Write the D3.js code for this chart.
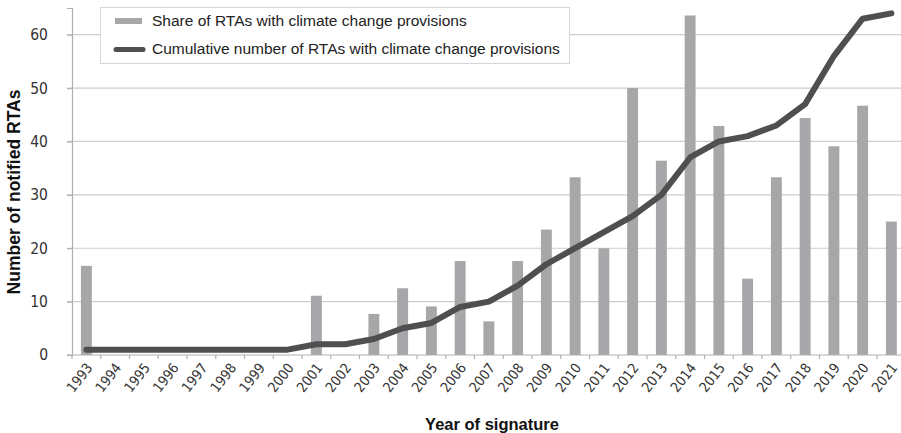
<!DOCTYPE html>
<html>
<head>
<meta charset="utf-8">
<script src="https://cdn.jsdelivr.net/npm/d3@7"></script>
<style>
  html, body { margin: 0; padding: 0; background: #fff; }
  svg { display: block; }
  .tick-label { font-family: "Liberation Sans Narrow", "DejaVu Sans Condensed", "Arial Narrow", sans-serif; fill: #333; }
  .legend-text { font-family: "Liberation Sans", Arial, Helvetica, sans-serif; fill: #222; }
  .axis-title { font-family: "Liberation Sans", Arial, Helvetica, sans-serif; font-weight: bold; fill: #111; }
</style>
</head>
<body>
<svg id="chart" width="901" height="433"></svg>
<script>
const years = ["1993","1994","1995","1996","1997","1998","1999","2000","2001","2002","2003","2004","2005","2006","2007","2008","2009","2010","2011","2012","2013","2014","2015","2016","2017","2018","2019","2020","2021"];
const shareValues = [16.7,0,0,0,0,0,0,0,11.1,0,7.7,12.5,9.1,17.6,6.3,17.6,23.5,33.3,20,50,36.4,63.6,42.9,14.3,33.3,44.4,39.1,46.7,25];
const cumulativeValues = [1,1,1,1,1,1,1,1,2,2,3,5,6,9,10,13,17,20,23,26,30,37,40,41,43,47,56,63,64];
const yTicks = [0,10,20,30,40,50,60];
const seriesNames = ["Share of RTAs with climate change provisions","Cumulative number of RTAs with climate change provisions"];
const xTitle = "Year of signature";
const yTitle = "Number of notified RTAs";

(function draw() {
const svg = d3.select("#chart");
const mLeft = 72, mTop = 8, mBottom = 355;
const nSlots = years.length;
const slot = 28.75;
const mRight = mLeft + nSlots * slot;

const x = d3.scaleBand().domain(years).range([mLeft, mRight]).paddingInner(0.62).paddingOuter(0.31);
const y = d3.scaleLinear().domain([0, 65]).range([mBottom, mTop]);

// gridlines
svg.append("g").selectAll("line").data(yTicks.filter(d => d > 0)).join("line")
  .attr("x1", mLeft - 5).attr("x2", mRight)
  .attr("y1", d => y(d)).attr("y2", d => y(d))
  .attr("stroke", "#cdcdcf").attr("stroke-width", 1.2);

// y axis
const yAxis = d3.axisLeft(y).tickValues(yTicks).tickSize(5).tickPadding(19);
const gy = svg.append("g").attr("transform", `translate(${mLeft},0)`).call(yAxis);
gy.attr("font-family", null).attr("font-size", null);
gy.select(".domain").attr("stroke", "#b0b0b2").attr("stroke-width", 1.2);
gy.selectAll(".tick line").attr("stroke", "#b0b0b2").attr("stroke-width", 1.2);
gy.selectAll(".tick text").attr("class", "tick-label").attr("font-size", 15.5).attr("fill", "#333");

// bars
svg.append("g").selectAll("rect").data(years.map((yr, i) => ({yr, v: shareValues[i]})).filter(d => d.v > 0)).join("rect")
  .attr("x", d => x(d.yr)).attr("width", x.bandwidth())
  .attr("y", d => y(d.v)).attr("height", d => y(0) - y(d.v))
  .attr("fill", "#a7a7a9");

// x axis baseline
svg.append("line").attr("x1", mLeft - 5).attr("x2", mRight).attr("y1", y(0)).attr("y2", y(0))
  .attr("stroke", "#b0b0b2").attr("stroke-width", 1.2);
// boundary ticks
const bounds = d3.range(nSlots + 1).map(i => mLeft + i * x.step());
svg.append("g").selectAll("line").data(bounds).join("line")
  .attr("x1", d => d).attr("x2", d => d).attr("y1", y(0)).attr("y2", y(0) + 4)
  .attr("stroke", "#b0b0b2").attr("stroke-width", 1.2);

// x labels
const xAxis = d3.axisBottom(x).tickSize(0).tickPadding(0);
const gx = svg.append("g").attr("transform", `translate(0,${y(0)})`).call(xAxis);
gx.attr("font-family", null).attr("font-size", null);
gx.select(".domain").remove();
gx.selectAll(".tick text")
  .attr("class", "tick-label").attr("font-size", 14).attr("fill", "#333")
  .attr("text-anchor", "end")
  .attr("transform", "translate(3,10) rotate(-52)")
  .attr("dy", "0.35em").attr("y", 0).attr("x", 0);

// line
const line = d3.line().x((d, i) => x(years[i]) + x.bandwidth() / 2).y(d => y(d));
svg.append("path").datum(cumulativeValues).attr("d", line)
  .attr("fill", "none").attr("stroke", "#4f4f51").attr("stroke-width", 6)
  .attr("stroke-linecap", "round").attr("stroke-linejoin", "round");

// legend
const lg = svg.append("g");
lg.append("rect").attr("x", 100.5).attr("y", 7.5).attr("width", 469).attr("height", 56)
  .attr("fill", "#fff").attr("stroke", "#d6d6d8").attr("stroke-width", 1);
lg.append("rect").attr("x", 115).attr("y", 18).attr("width", 27).attr("height", 6).attr("fill", "#a7a7a9");
lg.append("line").attr("x1", 116).attr("x2", 143).attr("y1", 49.5).attr("y2", 49.5)
  .attr("stroke", "#4f4f51").attr("stroke-width", 5).attr("stroke-linecap", "round");
lg.append("text").attr("class", "legend-text").attr("x", 152).attr("y", 21).attr("dy", "0.35em")
  .attr("font-size", 15.5).text(seriesNames[0]);
lg.append("text").attr("class", "legend-text").attr("x", 152).attr("y", 49).attr("dy", "0.35em")
  .attr("font-size", 15.5).text(seriesNames[1]);

// axis titles
svg.append("text").attr("class", "axis-title").attr("font-size", 17.5)
  .attr("transform", `translate(20,192) rotate(-90)`)
  .attr("text-anchor", "middle").text(yTitle);
svg.append("text").attr("class", "axis-title").attr("font-size", 16.5)
  .attr("x", 492).attr("y", 430).attr("text-anchor", "middle").text(xTitle);
})();
</script>
</body>
</html>
